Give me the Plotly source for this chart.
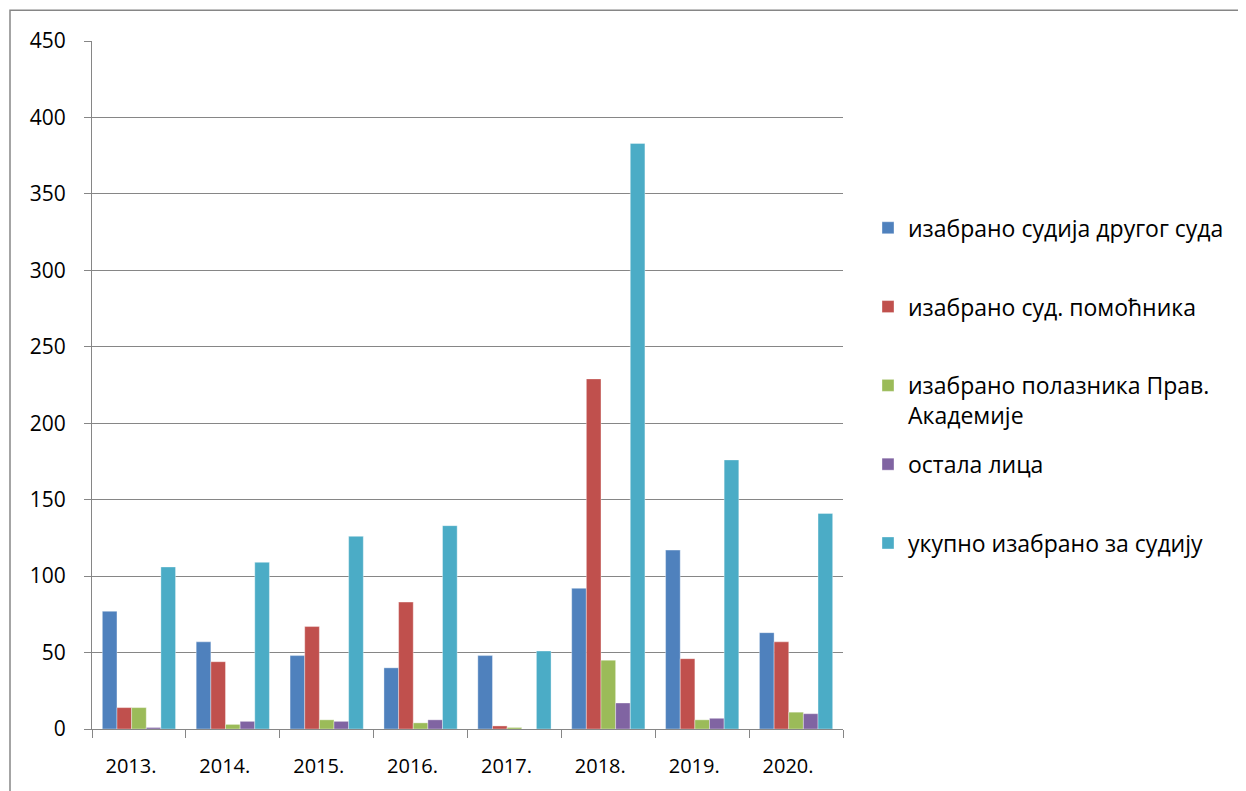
import plotly.graph_objects as go

years = ["2013.", "2014.", "2015.", "2016.", "2017.", "2018.", "2019.", "2020."]
drugi_sud = [77, 57, 48, 40, 48, 92, 117, 63]
pomocnici = [14, 44, 67, 83, 2, 229, 46, 57]
akademija = [14, 3, 6, 4, 1, 45, 6, 11]
ostala = [1, 5, 5, 6, 0, 17, 7, 10]
ukupno = [106, 109, 126, 133, 51, 383, 176, 141]

series_names = [
    "изабрано судија другог суда",
    "изабрано суд. помоћника",
    "изабрано полазника Прав.<br>Академије",
    "остала лица",
    "укупно изабрано за судију",
]
series_values = [drugi_sud, pomocnici, akademija, ostala, ukupno]
colors = ["#4F81BD", "#C0504D", "#9BBB59", "#8064A2", "#4BACC6"]

FONT = "Open Sans"
OFF = 8  # page body margin
W, H = 1246 - OFF, 791 - OFF
# plot area in screen pixels
L, R, T, B = 92, 843, 41, 736

def px_x(p):
    return (p - L) / (R - L)

def px_y(p):
    return (B - p) / (B - T)

fig = go.Figure()
for i, (name, vals, col) in enumerate(zip(series_names, series_values, colors)):
    legend_name = name if "<br>" in name else name + "<br> "
    fig.add_trace(go.Bar(
        x=years, y=vals, name=legend_name, marker_color=col,
        marker_line=dict(color="rgba(255,255,255,0.45)", width=0.8),
        legendgroup=f"g{i}",
    ))

fig.update_layout(
    width=W, height=H,
    margin=dict(l=L - OFF, r=W - (R - OFF), t=T - OFF, b=H - (B - OFF), pad=0),
    paper_bgcolor="white", plot_bgcolor="white",
    barmode="group", bargap=0.22, bargroupgap=0,
    font=dict(family=FONT, size=21, color="#000000"),
    showlegend=True,
    legend=dict(
        x=px_x(868), y=px_y(208), xanchor="left", yanchor="top",
        traceorder="grouped", tracegroupgap=16, valign="top",
        font=dict(family=FONT, size=23, color="#000000"),
        bgcolor="rgba(0,0,0,0)",
    ),
    xaxis=dict(
        showgrid=False, showline=True, linecolor="#868686", linewidth=1,
        ticks="outside", tickson="boundaries", ticklen=8, tickcolor="#868686",
        ticklabelstandoff=19, ticklabelshift=-8,
        tickfont=dict(family=FONT, size=20, color="#000000"),
    ),
    yaxis=dict(
        range=[0, 450], dtick=50, showgrid=True, gridcolor="#868686", gridwidth=1,
        showline=True, linecolor="#868686", linewidth=1,
        ticks="outside", ticklen=7, tickcolor="#868686",
        ticklabelstandoff=14, zeroline=False,
        tickfont=dict(family=FONT, size=21, color="#000000"),
    ),
    shapes=[dict(
        type="rect", xref="paper", yref="paper",
        x0=px_x(10), x1=px_x(1244), y0=px_y(800), y1=px_y(10),
        line=dict(color="#868686", width=1.5), fillcolor="rgba(0,0,0,0)", layer="below",
    )],
)

fig.write_html("out.html")
